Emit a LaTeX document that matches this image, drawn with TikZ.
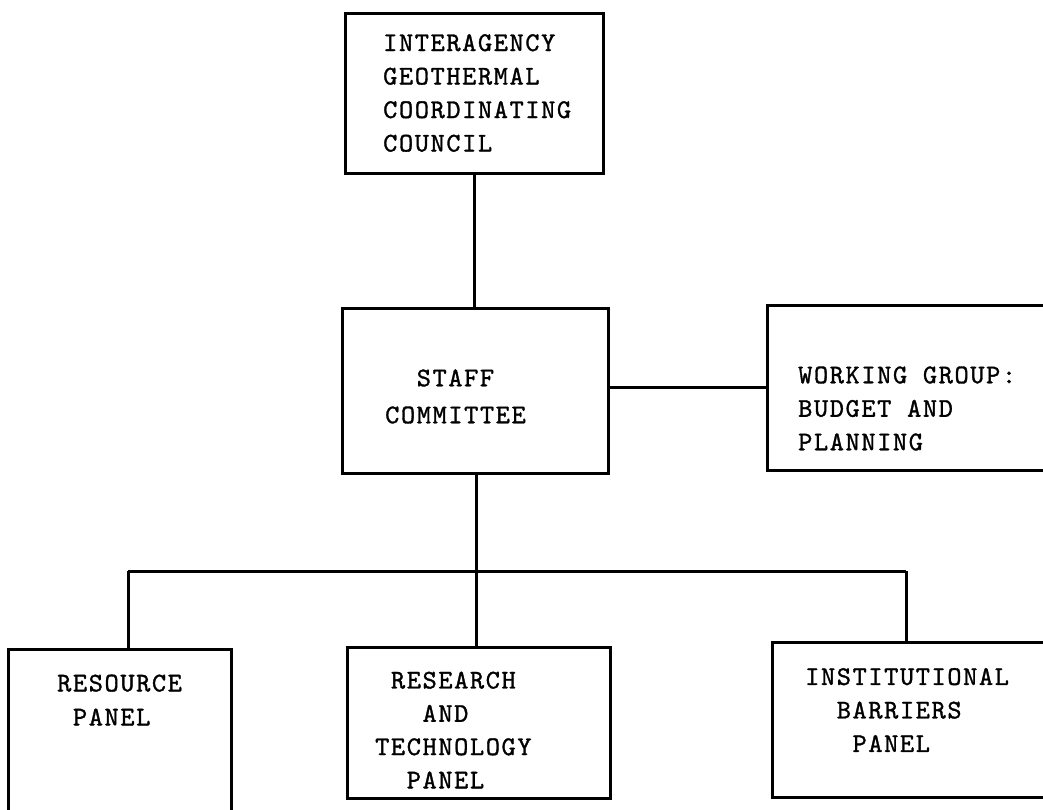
\documentclass[tikz,border=0pt]{standalone}
\usepackage{fontspec}
\newfontfamily\tw{lmmono10-regular.otf}[LetterSpace=6,FakeBold=1.2]
\begin{document}
\begin{tikzpicture}[x=1pt,y=-1pt,
  box/.style={draw, line width=3pt, rectangle, inner sep=0pt},
  txt/.style={font=\tw\fontsize{27}{33.5}\selectfont, inner sep=0pt, align=left, anchor=west},
  conn/.style={line width=3pt}]
\useasboundingbox (0,0) rectangle (1043,809);
% boxes
\node[box, minimum width=258pt, minimum height=160pt] (top) at (474,93) {};
\node[box, minimum width=266pt, minimum height=165pt] (staff) at (475,390.5) {};
\node[box, minimum width=293pt, minimum height=165pt] (wg) at (913.5,387.5) {};
\node[box, minimum width=223pt, minimum height=166pt] (res) at (119.5,732) {};
\node[box, minimum width=263pt, minimum height=151pt] (rt) at (478.5,722.5) {};
\node[box, minimum width=288pt, minimum height=155pt] (inst) at (916,719.5) {};
% texts
\node[txt] (topt) at (383,93) {INTERAGENCY\\GEOTHERMAL\\COORDINATING\\COUNCIL};
\node[txt, font=\tw\fontsize{27}{37}\selectfont] (stafft) at (385,396.5) {\hspace*{1.17em}STAFF\\COMMITTEE};
\node[txt] (wgt) at (798,408.5) {WORKING GROUP:\\BUDGET AND\\PLANNING};
\node[txt, font=\tw\fontsize{27}{34}\selectfont] (rest) at (57,700) {RESOURCE\\\hspace*{0.585em}PANEL};
\node[txt, font=\tw\fontsize{27}{33.3}\selectfont] (rtt) at (375,730) {\hspace*{0.585em}RESEARCH\\\hspace*{1.755em}AND\\TECHNOLOGY\\\hspace*{1.17em}PANEL};
\node[txt] (instt) at (805,710) {INSTITUTIONAL\\\hspace*{1.17em}BARRIERS\\\hspace*{1.755em}PANEL};
% connectors
\coordinate (busl) at (128,571);
\coordinate (busm) at (476.5,571);
\coordinate (busr) at (906,571);
\draw[conn] (top.south) -- (top.south |- staff.north);
\draw[conn] (wg.west -| staff.east) -- (wg.west);
\draw[conn] (staff.south -| busm) -- (busm);
\draw[conn] (busl) -- (busr);
\draw[conn] (busl) -- (busl |- res.north);
\draw[conn] (busm) -- (busm |- rt.north);
\draw[conn] (busr) -- (busr |- inst.north);
\end{tikzpicture}
\end{document}
